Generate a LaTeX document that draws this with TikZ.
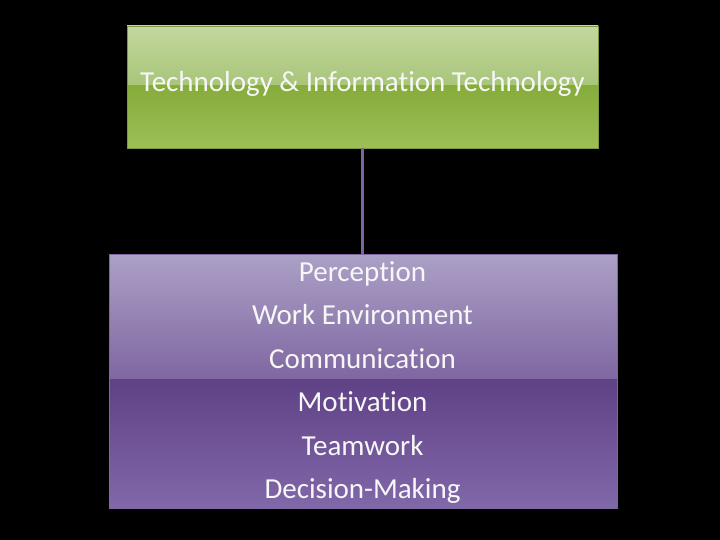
\documentclass[tikz,border=0pt]{standalone}
\usepackage{fontspec}
\setmainfont[Ligatures={NoCommon}]{Carlito}
\definecolor{gtop}{HTML}{C3D79F}
\definecolor{gmid1}{HTML}{A8C579}
\definecolor{gmid2}{HTML}{86AC3A}
\definecolor{gbot}{HTML}{9DBF56}
\definecolor{ptop}{HTML}{ACA0C6}
\definecolor{pmid1}{HTML}{7F67A2}
\definecolor{pmid2}{HTML}{5F4186}
\definecolor{pbot}{HTML}{8168A9}
\definecolor{conn}{HTML}{7B64A0}
\tikzset{
  lbl/.style={text=white!94!gray, font=\fontsize{29}{34}\selectfont, inner sep=0pt, anchor=base},
  anchorpt/.style={inner sep=0pt, minimum size=0pt}
}
\begin{document}
\begin{tikzpicture}[x=1pt,y=-1pt]
\fill[black] (0,0) rectangle (720,540);
\useasboundingbox (0,0) rectangle (720,540);
% green box
\shade[top color=gtop, bottom color=gmid1] (127,26) rectangle (598,86);
\shade[top color=gmid2, bottom color=gbot] (127,86) rectangle (598,148);
\draw[gbot!80!black, line width=0.6pt] (127,26) rectangle (598,148);
\node[anchorpt] (top) at (362.5,148) {};
% purple box
\shade[top color=ptop, bottom color=pmid1] (109,254) rectangle (617,379);
\shade[top color=pmid2, bottom color=pbot] (109,379) rectangle (617,508);
\draw[pmid1, line width=0.6pt] (109,254) rectangle (617,508);
\node[anchorpt] (bot) at (362.5,254) {};
\draw[conn, line width=3pt] (top) -- (bot);
% texts
\node[lbl] (t0) at (362.5,92) {Technology \& Information Technology};
\node[lbl] (t1) at (362.5,281) {Perception};
\node[lbl] (t2) at (362.5,324.5) {Work Environment};
\node[lbl] (t3) at (362.5,368) {Communication};
\node[lbl] (t4) at (362.5,411.5) {Motivation};
\node[lbl] (t5) at (362.5,455) {Teamwork};
\node[lbl] (t6) at (362.5,498.5) {Decision-Making};
\end{tikzpicture}
\end{document}
